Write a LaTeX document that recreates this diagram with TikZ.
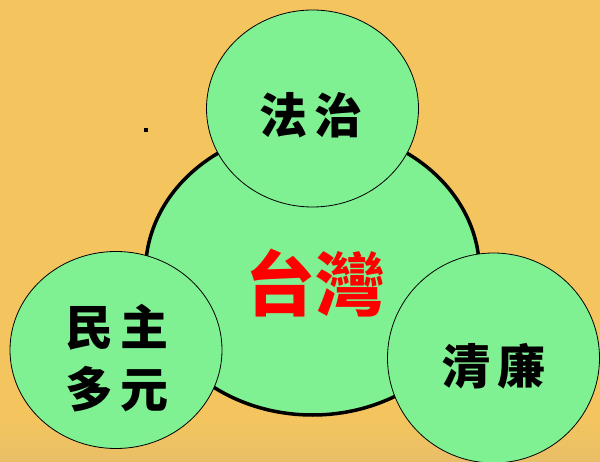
\documentclass[tikz,border=0pt]{standalone}
\usepackage{fontspec}
\newfontfamily\cjk{Noto Sans CJK TC}
\usetikzlibrary{shapes.geometric}
\definecolor{bgorange}{RGB}{244,197,94}
\definecolor{bubblegreen}{RGB}{128,241,146}
\definecolor{sandbrown}{RGB}{232,190,104}

\begin{document}
\begin{tikzpicture}[x=1pt, y=-1pt,
  bubble/.style={ellipse, draw=black, fill=bubblegreen, line width=0.8pt,
    inner sep=0pt, minimum width=212, minimum height=197},
  core/.style={bubble, line width=3.5pt, minimum width=334, minimum height=287},
  word/.style={font=\cjk\bfseries\fontsize{48}{62}\selectfont, align=center, inner sep=0pt},
  bigword/.style={word, text=red, font=\cjk\bfseries\fontsize{70}{80}\selectfont}]
% background
\fill[bgorange] (0,0) rectangle (600,462);
\shade[top color=bgorange, bottom color=sandbrown] (0,418) rectangle (600,462);
\fill (144,128) rectangle (148,132);
\useasboundingbox (0,0) rectangle (600,462);
% circles
\node[core] (taiwan) at (312.5,271.5) {};
\node[bubble] (fazhi) at (312.5,108.5) {};
\node[bubble] (minzhu) at (116,350) {};
\node[bubble, minimum height=210] (qinglian) at (493.5,358) {};
% texts
\node[bigword] (taiwan text) at (315,283) {台灣};
\node[word] (fazhi text) at (311,115) {法\,治};
\node[word] (minzhu text) at (117,358) {民\,主\\多\,元};
\node[word] (qinglian text) at (494,366) {清\,廉};
\end{tikzpicture}
\end{document}
